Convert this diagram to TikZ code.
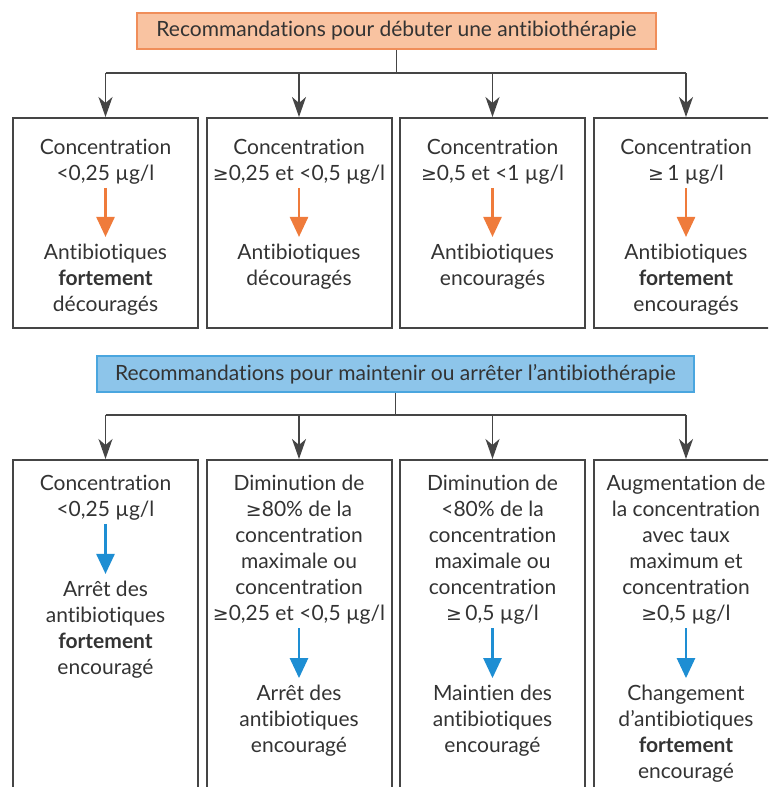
\documentclass[tikz,border=0pt]{standalone}
\usepackage{fontspec}
\setmainfont{Lato}[Ligatures=NoCommon]
\newfontfamily\symfont{DejaVu Sans}
\usetikzlibrary{positioning,arrows.meta}
\definecolor{orangefill}{HTML}{F9C3A1}
\definecolor{orangeline}{HTML}{F08E5A}
\definecolor{orangearrow}{HTML}{EF7B3B}
\definecolor{bluefill}{HTML}{8DC5EA}
\definecolor{blueline}{HTML}{4AA6DF}
\definecolor{bluearrow}{HTML}{1E8ED3}
\definecolor{textgray}{HTML}{333333}
\definecolor{linegray}{HTML}{454545}
\newcommand{\gteq}{{\symfont\scalebox{0.9}{≥}}}
\begin{document}
\begin{tikzpicture}[x=0.5pt, y=0.5pt,
    every node/.style={text=textgray, font=\fontsize{10.5}{13}\selectfont},
    header/.style={draw, line width=0.8pt, minimum height=18pt, inner sep=0pt},
    box/.style={draw=linegray, line width=1pt, minimum width=92.5pt, anchor=north},
    txt/.style={align=center, inner sep=0pt},
    link/.style={draw=linegray, line width=0.8pt},
    down/.style={link, -{Stealth[length=10pt, width=7pt, inset=3pt]}},
    oarrow/.style={draw=orangearrow, line width=1.3pt, -{Triangle[length=10pt, width=9pt]}, shorten <=1.5pt, shorten >=3.5pt},
    barrow/.style={draw=bluearrow, line width=1.3pt, -{Triangle[length=10pt, width=9pt]}, shorten <=1.5pt, shorten >=3.5pt}]
    \useasboundingbox (0,0) rectangle (768,-787);
    \clip (0,0) rectangle (768,-787);
    % debut
    \node [header, draw=orangeline, fill=orangefill, minimum width=259.5pt] (start) at (396.5,-31) {Recommandations pour débuter une antibiothérapie};
    \foreach \i/\x in {1/105.5, 2/299, 3/492.5, 4/686}
        \node [box, minimum height=105pt] (d\i) at (\x,-117) {};
    \draw [link] (start.south) -- ++(0,-23) coordinate (j1);
    \draw [link] (d1.north |- j1) -- (d4.north |- j1);
    \foreach \i in {1,...,4}
        \draw [down] (d\i.north |- j1) -- (d\i.north);
    \node [txt, below=11pt of d1.north] (d1c) {Concentration\\<0,25 µg/l};
    \node [txt, below=11pt of d2.north] (d2c) {Concentration\\\gteq0,25 et <0,5 µg/l};
    \node [txt, below=11pt of d3.north] (d3c) {Concentration\\\gteq0,5 et <1 µg/l};
    \node [txt, below=11pt of d4.north] (d4c) {Concentration\\\gteq\,1 µg/l};
    \node [txt, below=29.5pt of d1c] (d1r) {Antibiotiques\\\textbf{fortement}\\découragés};
    \node [txt, below=29.5pt of d2c] (d2r) {Antibiotiques\\découragés};
    \node [txt, below=29.5pt of d3c] (d3r) {Antibiotiques\\encouragés};
    \node [txt, below=29.5pt of d4c] (d4r) {Antibiotiques\\\textbf{fortement}\\encouragés};
    \foreach \i in {1,...,4}
        \draw [oarrow] (d\i c) -- (d\i r);
    % maintien ou arret
    \node [header, draw=blueline, fill=bluefill, minimum width=298.5pt] (suite) at (395.5,-374) {Recommandations pour maintenir ou arrêter l’antibiothérapie};
    \foreach \i/\x in {1/105.5, 2/299, 3/492.5, 4/686}
        \node [box, minimum height=170pt] (m\i) at (\x,-459) {};
    \draw [link] (suite.south) -- ++(0,-22) coordinate (j2);
    \draw [link] (m1.north |- j2) -- (m4.north |- j2);
    \foreach \i in {1,...,4}
        \draw [down] (m\i.north |- j2) -- (m\i.north);
    \node [txt, below=8pt of m1.north] (m1c) {Concentration\\<0,25 µg/l};
    \node [txt, below=8pt of m2.north] (m2c) {Diminution de\\\gteq80\% de la\\concentration\\maximale ou\\concentration\\\gteq0,25 et <0,5 µg/l};
    \node [txt, below=8pt of m3.north] (m3c) {Diminution de\\<80\% de la\\concentration\\maximale ou\\concentration\\\gteq\,0,5 µg/l};
    \node [txt, below=8pt of m4.north] (m4c) {Augmentation de\\la concentration\\avec taux\\maximum et\\concentration\\\gteq0,5 µg/l};
    \node [txt, below=30pt of m1c] (m1r) {Arrêt des\\antibiotiques\\\textbf{fortement}\\encouragé};
    \node [txt, below=30pt of m2c] (m2r) {Arrêt des\\antibiotiques\\encouragé};
    \node [txt, below=30pt of m3c] (m3r) {Maintien des\\antibiotiques\\encouragé};
    \node [txt, below=30pt of m4c] (m4r) {Changement\\d’antibiotiques\\\textbf{fortement}\\encouragé};
    \foreach \i in {1,...,4}
        \draw [barrow] (m\i c) -- (m\i r);
\end{tikzpicture}
\end{document}
